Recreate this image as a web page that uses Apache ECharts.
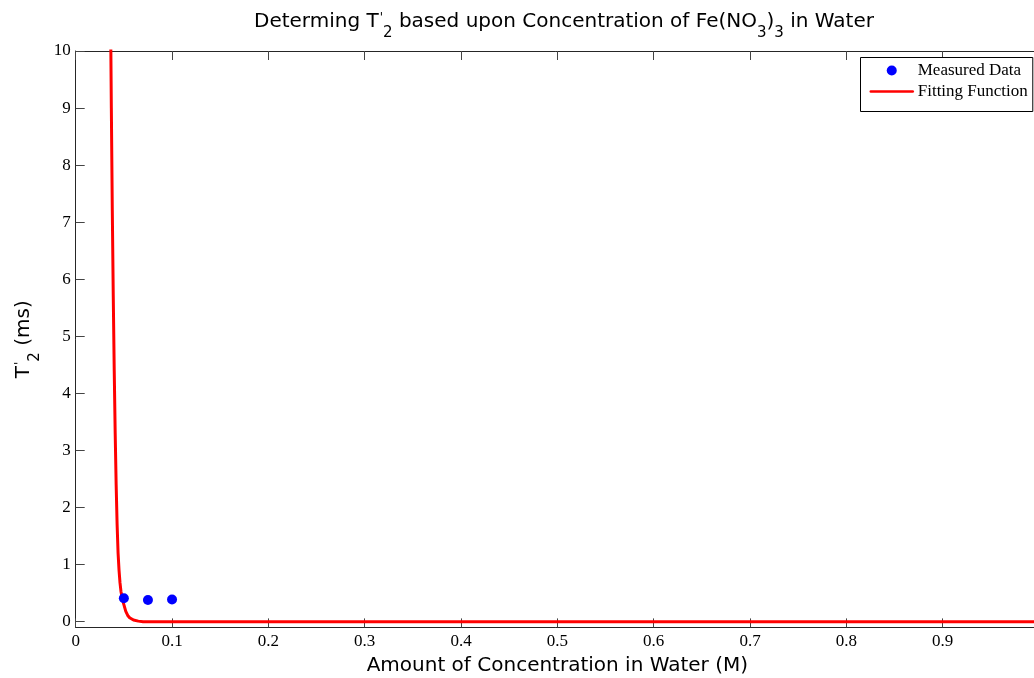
<!DOCTYPE html>
<html>
<head>
<meta charset="utf-8">
<script src="https://cdn.jsdelivr.net/npm/echarts@6/dist/echarts.min.js"></script>
<style>
  html, body { margin: 0; padding: 0; background: #fff; }
  #chart { width: 1034px; height: 678px; }
</style>
</head>
<body>
<div id="chart"></div>
<script>
// Measured T2' values (ms) at each Fe(NO3)3 concentration (M)
const measuredConc = [0.05, 0.075, 0.1];
const measuredT2 = [0.41, 0.38, 0.39];

// Fitted curve, sampled along concentration (M) -> T2' (ms)
const fitConc = [0.0360, 0.0365, 0.0370, 0.0380, 0.0390, 0.0400, 0.0410, 0.0420, 0.0430, 0.0440,
                 0.0450, 0.0460, 0.0470, 0.0480, 0.0490, 0.0500, 0.0520, 0.0540, 0.0560, 0.0580,
                 0.0600, 0.0650, 0.0700, 0.0800, 0.1000, 0.2000, 0.4000, 0.6000, 0.8000, 1.0000];
const fitT2 = [11.0, 10.0, 9.0, 7.2, 5.7, 4.4, 3.3, 2.4, 1.7, 1.2,
               0.9, 0.68, 0.53, 0.44, 0.36, 0.30, 0.18, 0.11, 0.07, 0.05,
               0.03, 0.01, 0.0, 0.0, 0.0, 0.0, 0.0, 0.0, 0.0, 0.0];

// Axis tick values
const xTicks = [0, 0.1, 0.2, 0.3, 0.4, 0.5, 0.6, 0.7, 0.8, 0.9, 1.0];
const yTicks = [0, 1, 2, 3, 4, 5, 6, 7, 8, 9, 10];

const serif = '"Liberation Serif", "Times New Roman", serif';
const sans = '"DejaVu Sans", "Liberation Sans", Arial, sans-serif';
const axisColor = '#262626';
const tickColor = '#444';

const chart = echarts.init(document.getElementById('chart'), null, { renderer: 'canvas' });

// Rich styles for the super/subscripted labels
const supSub = {
  base: { fontFamily: sans, fontSize: 20, fontWeight: 'normal', lineHeight: 25, verticalAlign: 'top', color: '#000' },
  sup: { fontFamily: sans, fontSize: 12, fontWeight: 'normal', lineHeight: 12, verticalAlign: 'top', color: '#000', padding: [0, 0, 0, 1] },
  sub: { fontFamily: sans, fontSize: 15, fontWeight: 'normal', lineHeight: 15, verticalAlign: 'top', color: '#000', padding: [14, 0, 0, 0] }
};

chart.setOption({
  animation: false,
  backgroundColor: '#fff',
  title: {
    text: "{base|Determing T}{sup|'}{sub|2}{base| based upon Concentration of Fe(NO}{sub|3}{base|)}{sub|3}{base| in Water}",
    left: 254,
    top: 12,
    padding: 0,
    textStyle: { fontWeight: 'normal', rich: supSub }
  },
  legend: {
    orient: 'vertical',
    left: 860.5,
    top: 57.5,
    padding: [4, 5, 11, 9],
    itemWidth: 42,
    itemHeight: 10,
    itemGap: 3,
    borderColor: '#000',
    borderWidth: 1,
    borderRadius: 0,
    backgroundColor: '#fff',
    textStyle: { fontFamily: serif, fontSize: 17, lineHeight: 18, color: '#000' },
    data: [
      { name: 'Measured Data', icon: 'circle' },
      { name: 'Fitting Function', itemStyle: { opacity: 0 }, lineStyle: { color: '#ff0000', width: 2.5 } }
    ]
  },
  grid: { left: 75.7, right: -5, top: 51, bottom: 50.6, outerBoundsMode: 'none', containLabel: false },
  xAxis: [
    {
      type: 'value',
      position: 'bottom',
      min: 0,
      max: 1,
      interval: 0.1,
      name: 'Amount of Concentration in Water (M)',
      nameLocation: 'middle',
      nameGap: 25,
      nameTextStyle: { fontFamily: sans, fontSize: 20, color: '#000' },
      splitLine: { show: false },
      axisLine: { show: true, onZero: false, lineStyle: { color: axisColor, width: 1 } },
      axisTick: { show: true, inside: true, length: 9, lineStyle: { color: tickColor } },
      axisLabel: {
        fontFamily: serif, fontSize: 17, color: '#000', margin: 6,
        formatter: v => String(Math.round(v * 10) / 10)
      }
    },
    {
      type: 'value',
      position: 'top',
      min: 0,
      max: 1,
      interval: 0.1,
      splitLine: { show: false },
      axisLine: { show: true, onZero: false, lineStyle: { color: axisColor, width: 1 } },
      axisTick: { show: true, inside: true, length: 9, lineStyle: { color: tickColor } },
      axisLabel: { show: false }
    }
  ],
  yAxis: [
    {
      type: 'value',
      min: -0.1,
      max: 10,
      name: "{base|T}{sup|'}{sub|2}{base| (ms)}",
      nameLocation: 'middle',
      nameRotate: 90,
      nameGap: 27,
      nameTextStyle: { rich: supSub },
      splitLine: { show: false },
      axisLine: { show: true, onZero: false, lineStyle: { color: axisColor, width: 1 } },
      axisTick: { show: true, inside: true, length: 9, customValues: yTicks, lineStyle: { color: tickColor } },
      axisLabel: { fontFamily: serif, fontSize: 17, color: '#000', margin: 5, customValues: yTicks }
    }
  ],
  series: [
    {
      name: 'Measured Data',
      type: 'scatter',
      symbol: 'circle',
      symbolSize: 10,
      itemStyle: { color: '#0000ff', opacity: 1 },
      data: measuredConc.map((c, i) => [c, measuredT2[i]]),
      z: 3
    },
    {
      name: 'Fitting Function',
      type: 'line',
      showSymbol: false,
      symbol: 'none',
      smooth: false,
      clip: true,
      lineStyle: { color: '#ff0000', width: 3, join: 'round', cap: 'round' },
      itemStyle: { color: '#ff0000' },
      data: fitConc.map((c, i) => [c, fitT2[i]]),
      z: 2
    }
  ]
});
</script>
</body>
</html>
